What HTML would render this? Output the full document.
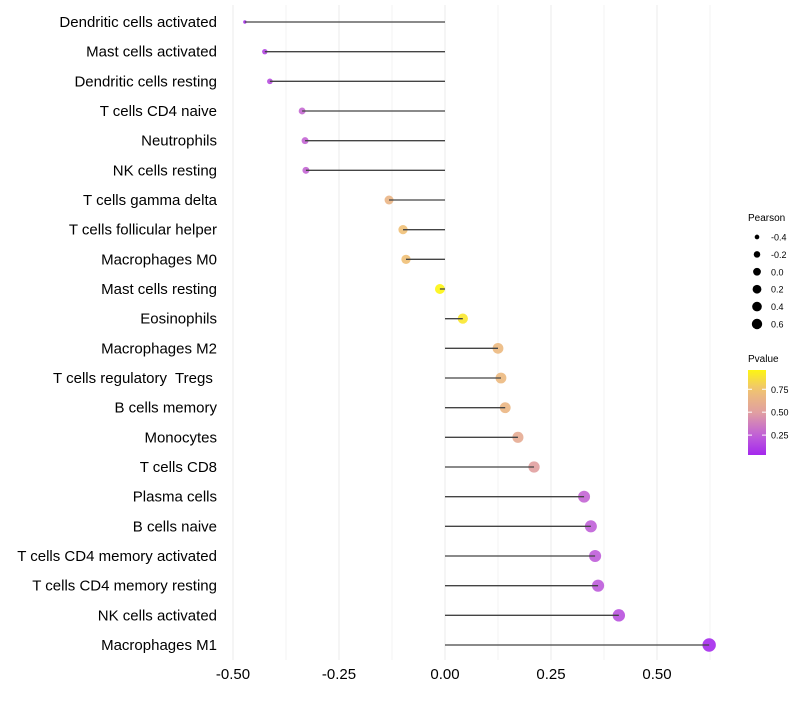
<!DOCTYPE html>
<html><head><meta charset="utf-8"><style>
body{margin:0;background:#fff;font-family:"Liberation Sans",sans-serif}
text{white-space:pre}
</style></head><body>
<svg id="c" width="800" height="700" xmlns="http://www.w3.org/2000/svg" font-family="Liberation Sans, sans-serif" xml:space="preserve"></svg>
<script>
const categories=["Dendritic cells activated","Mast cells activated","Dendritic cells resting","T cells CD4 naive","Neutrophils","NK cells resting","T cells gamma delta","T cells follicular helper","Macrophages M0","Mast cells resting","Eosinophils","Macrophages M2","T cells regulatory  Tregs ","B cells memory","Monocytes","T cells CD8","Plasma cells","B cells naive","T cells CD4 memory activated","T cells CD4 memory resting","NK cells activated","Macrophages M1"];
const pearson=[-0.472,-0.425,-0.413,-0.337,-0.330,-0.328,-0.132,-0.099,-0.092,-0.012,0.042,0.125,0.132,0.142,0.172,0.210,0.328,0.344,0.354,0.361,0.410,0.623];
const pvalues=[0.05,0.15,0.18,0.28,0.27,0.27,0.65,0.73,0.73,0.96,0.90,0.68,0.68,0.66,0.58,0.50,0.27,0.25,0.24,0.23,0.19,0.04];
const xTicks=[-0.5,-0.25,0,0.25,0.5];
const xTickLabels=["-0.50","-0.25","0.00","0.25","0.50"];
const sizeBreaks=[-0.4,-0.2,0.0,0.2,0.4,0.6];
const pBreaks=[0.25,0.5,0.75];

const NS="http://www.w3.org/2000/svg",svg=document.getElementById('c');
const X=v=>445+424*v;
const Y=i=>22+i*(623/21);
const R=v=>1.7+5*Math.sqrt(Math.max(0,(v+0.47)/1.09));
const stops=[[0,[160,32,240]],[0.25,[192,96,216]],[0.5,[225,160,160]],[0.75,[240,195,115]],[1,[255,255,0]]];
function col(p){p=Math.max(0,Math.min(1,p));for(let k=1;k<stops.length;k++){if(p<=stops[k][0]){const a=stops[k-1],b=stops[k],t=(p-a[0])/(b[0]-a[0]);return 'rgb('+a[1].map((c,j)=>Math.round(c+(b[1][j]-c)*t)).join(',')+')';}}}
function el(t,a,p){const e=document.createElementNS(NS,t);for(const k in a)e.setAttribute(k,a[k]);(p||svg).appendChild(e);return e;}
const PV=v=>455-(v-0.033)/(0.96-0.033)*85;

for(let g=-0.5;g<=0.626;g+=0.125){const l=el('line',{x1:X(g),x2:X(g),y1:5,y2:660,stroke:'#ebebeb','stroke-width':Math.abs((g*4)%1)<1e-6?1:0.6});

}
xTicks.forEach((v,i)=>{const t=el('text',{x:X(v),y:679,'text-anchor':'middle','font-size':15,fill:'#000'});t.textContent=xTickLabels[i];

});
categories.forEach((c,i)=>{const y=Y(i);
const t=el('text',{x:217,y:y+5,'text-anchor':'end','font-size':15,fill:'#000'});t.textContent=c;


const d=el('circle',{cx:X(pearson[i]),cy:y,r:R(pearson[i]),fill:col(pvalues[i]),'fill-opacity':0.9});


const l=el('line',{x1:X(0),x2:X(pearson[i]),y1:y,y2:y,stroke:'#444','stroke-width':1.3});

});

let t=el('text',{x:748,y:221,'font-size':10});t.textContent='Pearson';


sizeBreaks.forEach((v,i)=>{const y=237+i*17.4;
const c=el('circle',{cx:757,cy:y,r:R(v)*0.78,fill:'#000'});


const tt=el('text',{x:771,y:y+3.5,'font-size':9});tt.textContent=v.toFixed(1);

});
t=el('text',{x:748,y:362,'font-size':10});t.textContent='Pvalue';


const defs=el('defs',{});const lg=el('linearGradient',{id:'pg',x1:0,y1:1,x2:0,y2:0},defs);
for(let k=0;k<=10;k++){const p=0.033+k/10*(0.96-0.033);el('stop',{offset:k/10,'stop-color':col(p)},lg);}
const bar=el('rect',{x:748,y:370,width:18,height:85,fill:'url(#pg)'});


pBreaks.forEach(v=>{const y=PV(v);el('line',{x1:748,x2:752,y1:y,y2:y,stroke:'#fff'});el('line',{x1:762,x2:766,y1:y,y2:y,stroke:'#fff'});
const tt=el('text',{x:771,y:y+3.5,'font-size':9});tt.textContent=v.toFixed(2);

});
</script>
</body></html>
